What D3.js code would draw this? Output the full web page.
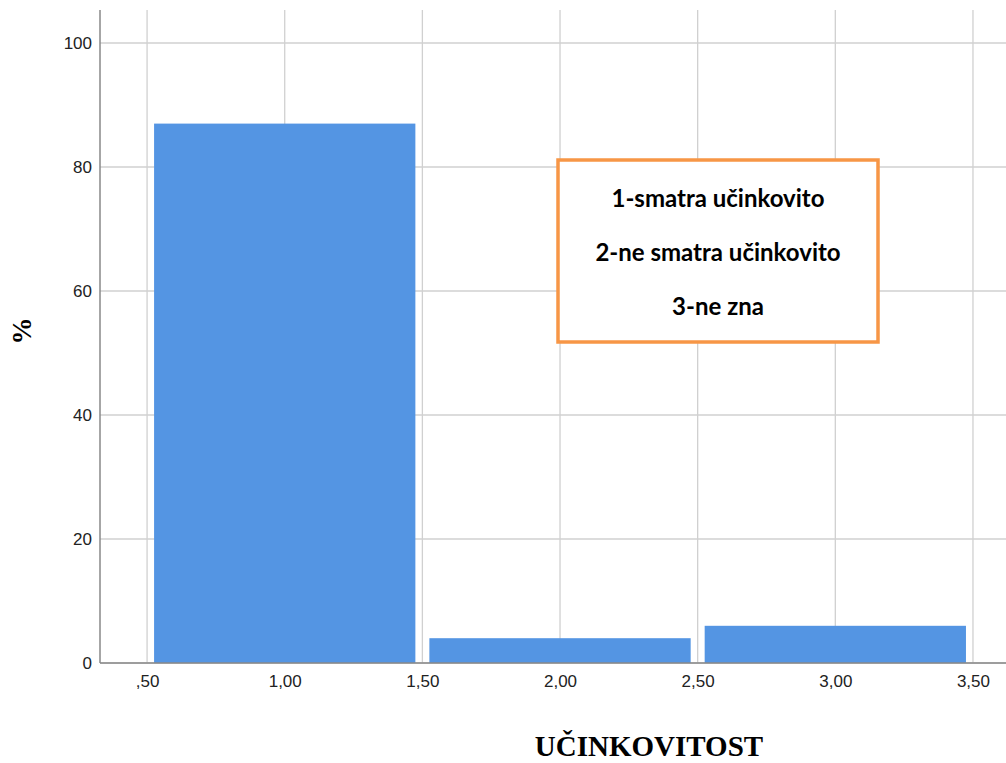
<!DOCTYPE html>
<html>
<head>
<meta charset="utf-8">
<script src="https://cdn.jsdelivr.net/npm/d3@7"></script>
<style>
body { margin: 0; background: #fff; }
</style>
</head>
<body>
<div class="content"></div>
<script>
var width = 1006;
var height = 763;

// data
var categories = [1, 2, 3];
var percents = [87, 4, 6];
var xTicks = [0.5, 1, 1.5, 2, 2.5, 3, 3.5];
var yTicks = [0, 20, 40, 60, 80, 100];
var legendLines = ["1-smatra učinkovito", "2-ne smatra učinkovito", "3-ne zna"];

var svg = d3.select(".content").append("svg").attr("width", width).attr("height", height);

var x = d3.scaleLinear().domain([0.329, 3.62]).range([100, 1006]);
var y = d3.scaleLinear().domain([0, 100]).range([663, 43]);

var loc = d3.formatLocale({decimal: ",", thousands: ".", grouping: [3], currency: ["", ""]});
var fmt = loc.format(".2f");
function xLabel(d) { var s = fmt(d); return s.indexOf("0,") == 0 ? s.slice(1) : s; }

// gridlines
svg.append("g").selectAll("line").data(xTicks).enter().append("line")
  .attr("x1", function(d){ return x(d); }).attr("x2", function(d){ return x(d); })
  .attr("y1", 10).attr("y2", y(0))
  .attr("stroke", "#d0d0d0").attr("stroke-width", 1.3);
svg.append("g").selectAll("line").data(yTicks).enter().append("line")
  .attr("x1", 100).attr("x2", width)
  .attr("y1", function(d){ return y(d); }).attr("y2", function(d){ return y(d); })
  .attr("stroke", "#d0d0d0").attr("stroke-width", 1.3);

// bars
var inset = 7;
svg.append("g").selectAll("rect").data(categories).enter().append("rect")
  .attr("x", function(d){ return x(d - 0.5) + inset; })
  .attr("width", function(d){ return x(d + 0.5) - x(d - 0.5) - 2 * inset; })
  .attr("y", function(d, i){ return y(percents[i]); })
  .attr("height", function(d, i){ return y(0) - y(percents[i]); })
  .attr("fill", "#5495e3");

// axes
var xa = svg.append("g").attr("transform", "translate(0," + y(0) + ")")
  .call(d3.axisBottom(x).tickValues(xTicks).tickFormat(xLabel).tickSize(0).tickPadding(12));
var ya = svg.append("g").attr("transform", "translate(100,0)")
  .call(d3.axisLeft(y).tickValues(yTicks).tickSize(0).tickPadding(8));
[xa, ya].forEach(function(a){
  a.select(".domain").attr("stroke", "#888").attr("stroke-width", 1.5);
  a.selectAll("text").attr("font-family", "Liberation Sans, Arial, sans-serif")
    .attr("font-size", 17).attr("fill", "#222");
});
xa.select(".domain").attr("d", "M100,0H" + width);
ya.select(".domain").attr("d", "M0,10V" + y(0));

// legend box
svg.append("rect").attr("x", 558).attr("y", 160).attr("width", 320).attr("height", 182)
  .attr("fill", "#fff").attr("stroke", "#f79646").attr("stroke-width", 3.5);
svg.append("g").selectAll("text").data(legendLines).enter().append("text")
  .attr("x", 718).attr("y", function(d, i){ return 207 + i * 54; })
  .attr("text-anchor", "middle")
  .attr("font-family", "Lato, sans-serif").attr("font-weight", "bold").attr("font-size", 24)
  .text(function(d){ return d; });

// titles
svg.append("text").attr("x", 649).attr("y", 756).attr("text-anchor", "middle")
  .attr("font-family", "Liberation Serif, Times New Roman, serif").attr("font-weight", "bold")
  .attr("font-size", 29).text("UČINKOVITOST");
svg.append("text").attr("transform", "translate(31,331) rotate(-90)").attr("text-anchor", "middle")
  .attr("font-family", "Liberation Serif, Times New Roman, serif").attr("font-weight", "bold")
  .attr("font-size", 27).text("%");
</script>
</body>
</html>
